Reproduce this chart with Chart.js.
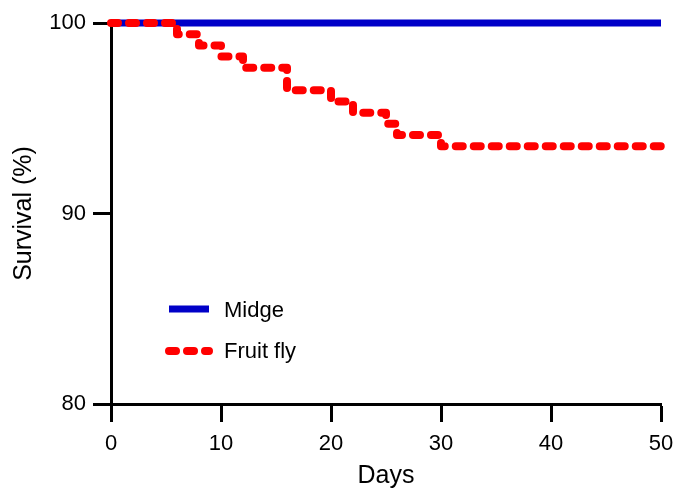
<!DOCTYPE html>
<html>
<head>
<meta charset="utf-8">
<script src="https://cdn.jsdelivr.net/npm/chart.js@4"></script>
<style>
  html, body { margin: 0; padding: 0; background: #fff; }
  #wrap { width: 686px; height: 491px; }
</style>
</head>
<body>
<div id="wrap"><canvas id="survivalChart"></canvas></div>
<script>
// -----------------------
// Data
// -----------------------
const midgeDays = [0, 50];
const midgeSurvival = [100, 100];
const flyDays = [0, 6, 8, 10, 12, 16, 20, 22, 25, 26, 30, 50];
const flySurvival = [100, 99.41, 98.82, 98.24, 97.65, 96.47, 95.88, 95.29, 94.71, 94.12, 93.53, 93.53];
const xTicks = [0, 10, 20, 30, 40, 50];
const yTicks = [80, 90, 100];
const seriesNames = ['Midge', 'Fruit fly'];

const FONT = "'Liberation Sans', Arial, Helvetica, sans-serif";
const BLUE = '#0000c8';
const RED = '#ff0000';

const toPoints = (xs, ys) => xs.map((x, i) => ({ x, y: ys[i] }));

// -----------------------
// Legend drawn inside the plot area
// -----------------------
const insideLegend = {
  id: 'insideLegend',
  afterDatasetsDraw(chart) {
    const { ctx, chartArea } = chart;
    const x0 = chartArea.left + 58;
    const x1 = x0 + 40;
    const rows = [
      { y: chartArea.top + 286, color: BLUE, width: 7, dash: [], cap: 'butt', label: seriesNames[0], base: 294 },
      { y: chartArea.top + 328, color: RED, width: 8, dash: [7, 11], cap: 'round', label: seriesNames[1], base: 335 }
    ];
    ctx.save();
    rows.forEach(r => {
      ctx.beginPath();
      ctx.strokeStyle = r.color;
      ctx.lineWidth = r.width;
      ctx.lineCap = r.cap;
      ctx.setLineDash(r.dash);
      ctx.moveTo(x0, r.y);
      ctx.lineTo(x1, r.y);
      ctx.stroke();
      ctx.setLineDash([]);
      ctx.fillStyle = '#000';
      ctx.font = `22px ${FONT}`;
      ctx.textBaseline = 'alphabetic';
      ctx.fillText(r.label, x1 + 15, chartArea.top + r.base);
    });
    ctx.restore();
  }
};

// -----------------------
// Chart
// -----------------------
function initChart() {
  const ctx = document.getElementById('survivalChart').getContext('2d');
  new Chart(ctx, {
    type: 'line',
    data: {
      datasets: [
        {
          label: seriesNames[1],
          data: toPoints(flyDays, flySurvival),
          borderColor: RED,
          borderWidth: 8,
          borderDash: [7, 11],
          borderCapStyle: 'round',
          borderJoinStyle: 'round',
          stepped: true,
          pointRadius: 0,
          fill: false,
          clip: false
        },
        {
          label: seriesNames[0],
          data: toPoints(midgeDays, midgeSurvival),
          borderColor: BLUE,
          borderWidth: 7,
          pointRadius: 0,
          fill: false,
          clip: false
        }
      ]
    },
    options: {
      responsive: true,
      maintainAspectRatio: false,
      animation: false,
      layout: { padding: { left: 0, right: 25, top: 23, bottom: 0 } },
      plugins: { legend: { display: false }, tooltip: { enabled: false } },
      scales: {
        x: {
          type: 'linear',
          min: 0,
          max: 50,
          afterBuildTicks: s => { s.ticks = xTicks.map(v => ({ value: v })); },
          afterFit: s => { s.height = 87; },
          border: { color: '#000', width: 3 },
          grid: { drawOnChartArea: false, drawTicks: true, tickLength: 18, tickWidth: 3, tickColor: '#000' },
          ticks: { color: '#000', font: { family: FONT, size: 22 }, padding: 9, maxRotation: 0 },
          title: { display: true, text: 'Days', color: '#000', font: { family: FONT, size: 25 }, padding: { top: 0, bottom: 0 } }
        },
        y: {
          min: 80,
          max: 100,
          afterBuildTicks: s => { s.ticks = yTicks.map(v => ({ value: v })); },
          afterFit: s => { s.width = 111; },
          border: { color: '#000', width: 3 },
          grid: { drawOnChartArea: false, drawTicks: true, tickLength: 18, tickWidth: 3, tickColor: '#000' },
          ticks: { color: '#000', font: { family: FONT, size: 22 }, padding: 7 },
          title: { display: true, text: 'Survival (%)', color: '#000', font: { family: FONT, size: 25 }, padding: { top: 9, bottom: 0 } }
        }
      }
    },
    plugins: [insideLegend]
  });
}

document.addEventListener('DOMContentLoaded', initChart);
</script>
</body>
</html>
